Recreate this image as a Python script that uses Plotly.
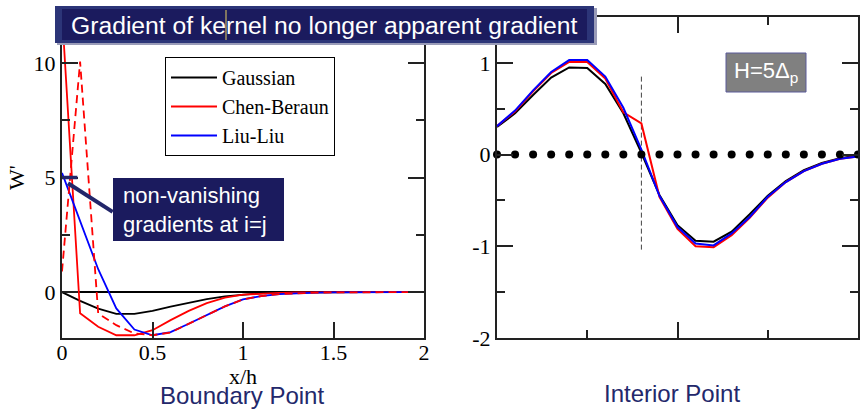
import plotly.graph_objects as go

W, H = 860, 409

# ---------------- data ----------------
# Boundary point (left panel), x/h grid
x_left = [0.0, 0.1, 0.2, 0.3, 0.4, 0.5, 0.6, 0.7, 0.8, 0.9, 1.0, 1.1, 1.2, 1.3, 1.4, 1.5, 1.6, 1.7, 1.8, 1.9, 2.0]
gauss_left = [0.0, -0.38, -0.72, -0.95, -0.95, -0.82, -0.63, -0.45, -0.30, -0.18, -0.10, -0.05, -0.02, -0.01, 0.0, 0.0, 0.0, 0.0, 0.0, 0.0, 0.0]
chen_left = [12.2, -0.92, -1.51, -1.88, -1.88, -1.66, -1.22, -0.82, -0.48, -0.24, -0.11, -0.06, -0.03, -0.01, 0.0, 0.0, 0.0, 0.0, 0.0, 0.0, 0.0]
chen_dash_left = [0.9, 10.06, -0.93, -1.44, -1.80, -1.88, -1.76, -1.38, -1.0, -0.62, -0.32, -0.17, -0.09, -0.05, -0.02, -0.01, 0.0, 0.0, 0.0, 0.0, 0.0]
liu_left = [5.2, 3.1, 1.0, -0.71, -1.63, -1.88, -1.74, -1.38, -1.0, -0.62, -0.32, -0.17, -0.09, -0.05, -0.02, -0.01, 0.0, 0.0, 0.0, 0.0, 0.0]

# Interior point (right panel), particle positions
x_right = [0.0, 0.1, 0.2, 0.3, 0.4, 0.5, 0.6, 0.7, 0.8, 0.9, 1.0, 1.1, 1.2, 1.3, 1.4, 1.5, 1.6, 1.7, 1.8, 1.9, 2.0]
gauss_right = [0.30, 0.45, 0.65, 0.84, 0.95, 0.945, 0.77, 0.45, 0.02, -0.44, -0.77, -0.94, -0.95, -0.84, -0.65, -0.45, -0.29, -0.17, -0.09, -0.04, -0.01]
liu_right = [0.31, 0.48, 0.70, 0.90, 1.03, 1.03, 0.85, 0.51, 0.055, -0.45, -0.79, -0.97, -0.99, -0.86, -0.68, -0.46, -0.30, -0.18, -0.10, -0.045, -0.02]
chen_right = [0.31, 0.47, 0.69, 0.89, 1.01, 1.01, 0.83, 0.46, 0.34, -0.46, -0.81, -1.00, -1.01, -0.88, -0.69, -0.47, -0.30, -0.18, -0.10, -0.045, -0.02]
particles_y = [0.0] * len(x_right)
interior_x = 0.8
interior_span = [0.85, -1.06]

right_ytickvals = [-2, -1, 0, 1]
right_yticktext = ['-2', '-1', '0', '1']

legend_names = ['Gaussian', 'Chen-Beraun', 'Liu-Liu']

# ---------------- helpers ----------------
def px(x):
    return x / W

def py(y):
    return 1 - y / H

NAVY = '#1b1b5e'
SERIF = 'Liberation Serif, Times New Roman, serif'
SANS = 'Liberation Sans, Arial, sans-serif'

fig = go.Figure()

# left panel
fig.add_trace(go.Scatter(x=x_left, y=gauss_left, mode='lines', name=legend_names[0],
                         line=dict(color='black', width=1.8), xaxis='x', yaxis='y'))
fig.add_trace(go.Scatter(x=x_left, y=chen_left, mode='lines', name=legend_names[1],
                         line=dict(color='#ff0000', width=1.8), xaxis='x', yaxis='y'))
fig.add_trace(go.Scatter(x=x_left, y=liu_left, mode='lines', name=legend_names[2],
                         line=dict(color='#0000ff', width=1.8), xaxis='x', yaxis='y'))
fig.add_trace(go.Scatter(x=x_left, y=chen_dash_left, mode='lines', showlegend=False,
                         line=dict(color='#ff0000', width=1.8, dash='8px,5px'), xaxis='x', yaxis='y'))

# right panel
fig.add_trace(go.Scatter(x=[interior_x, interior_x], y=interior_span, mode='lines', showlegend=False,
                         line=dict(color='#444444', width=1, dash='5px,3px'), xaxis='x2', yaxis='y2'))
fig.add_trace(go.Scatter(x=x_right, y=gauss_right, mode='lines', showlegend=False,
                         line=dict(color='black', width=2), xaxis='x2', yaxis='y2'))
fig.add_trace(go.Scatter(x=x_right, y=chen_right, mode='lines', showlegend=False,
                         line=dict(color='#ff0000', width=2), xaxis='x2', yaxis='y2'))
fig.add_trace(go.Scatter(x=x_right, y=liu_right, mode='lines', showlegend=False,
                         line=dict(color='#0000ff', width=2), xaxis='x2', yaxis='y2'))
fig.add_trace(go.Scatter(x=x_right, y=particles_y, mode='markers', showlegend=False, cliponaxis=False,
                         marker=dict(color='black', size=8), xaxis='x2', yaxis='y2'))

axis_common = dict(showline=True, linecolor='#222222', linewidth=2, mirror='allticks',
                   ticks='inside', ticklen=16, tickwidth=1.5, tickcolor='#222222', automargin=False,
                   showgrid=False, tickfont=dict(family=SERIF, size=22, color='black'))

fig.update_layout(
    width=W, height=H,
    margin=dict(l=0, r=0, t=0, b=0, autoexpand=False),
    paper_bgcolor='white', plot_bgcolor='white',
    xaxis=dict(domain=[px(62), px(424)], range=[0, 2], tick0=0, dtick=0.5, zeroline=False,
               anchor='y', ticklabelstandoff=-6, **axis_common),
    yaxis=dict(domain=[py(338), py(17)], range=[-2, 12], tick0=0, dtick=5, anchor='x',
               zeroline=True, zerolinecolor='black', zerolinewidth=1.5,
               minor=dict(tick0=0, dtick=2.5, ticklen=8, tickwidth=1.5, tickcolor='#222222', ticks='inside'),
               **axis_common),
    xaxis2=dict(domain=[px(497), px(858)], range=[0, 2], tick0=0, dtick=1, showticklabels=False,
                zeroline=False, anchor='y2',
                minor=dict(tick0=0, dtick=0.5, ticklen=8, tickwidth=1.5, tickcolor='#222222', ticks='inside'),
                **axis_common),
    yaxis2=dict(domain=[py(338), py(17)], range=[-2, 1.5], tickmode='array', tickvals=right_ytickvals,
                ticktext=right_yticktext, zeroline=False, anchor='x2',
                minor=dict(tickmode='linear', tick0=0, dtick=0.5, ticklen=8, tickwidth=1.5,
                           tickcolor='#222222', ticks='inside'),
                **axis_common),
    legend=dict(x=px(165), y=py(57), xanchor='left', yanchor='top', bgcolor='white',
                bordercolor='black', borderwidth=1, font=dict(family=SERIF, size=20, color='black'),
                itemwidth=46, tracegroupgap=0),
)

shapes = [
    # title box
    dict(type='rect', xref='paper', yref='paper', x0=px(57), x1=px(597), y0=py(45), y1=py(8),
         fillcolor='#9a9cb8', line=dict(width=0), layer='above'),
    dict(type='rect', xref='paper', yref='paper', x0=px(55), x1=px(594), y0=py(43), y1=py(6),
         fillcolor='#2c3578', line=dict(width=0), layer='above'),
    dict(type='rect', xref='paper', yref='paper', x0=px(62), x1=px(587), y0=py(40), y1=py(9),
         fillcolor=NAVY, line=dict(width=0), layer='above'),
    dict(type='line', xref='paper', yref='paper', x0=px(226), x1=px(226), y0=py(40), y1=py(10),
         line=dict(color='#e8d060', width=1), layer='above'),
    # annotation box
    dict(type='rect', xref='paper', yref='paper', x0=px(113), x1=px(284), y0=py(241), y1=py(178),
         fillcolor=NAVY, line=dict(width=0), layer='above'),
    dict(type='line', xref='x', yref='y', x0=0.033, x1=0.28, y0=4.75, y1=3.5,
         line=dict(color='#22266a', width=4), layer='above'),
    dict(type='line', xref='x', yref='y', x0=0.0, x1=0.085, y0=5, y1=5,
         line=dict(color='#22266a', width=3.5), layer='above'),
    # H box
    dict(type='rect', xref='paper', yref='paper', x0=px(726), x1=px(806), y0=py(92), y1=py(53),
         fillcolor='#808080', line=dict(color='#5b5b99', width=1), layer='above'),
]
fig.update_layout(shapes=shapes)

annotations = [
    dict(text='Gradient of kernel no longer apparent gradient', x=px(69), y=py(25), xref='paper', yref='paper',
         xanchor='left', yanchor='middle', showarrow=False, font=dict(family=SANS, size=24.7, color='white')),
    dict(text='non-vanishing<br>gradients at i=j', x=px(121), y=py(210), xref='paper', yref='paper',
         xanchor='left', yanchor='middle', align='left', showarrow=False,
         font=dict(family=SANS, size=22, color='white')),
    dict(text='H=5Δ<sub>p</sub>', x=px(766), y=py(72), xref='paper', yref='paper',
         xanchor='center', yanchor='middle', showarrow=False, font=dict(family=SANS, size=22, color='white')),
    dict(text='x/h', x=px(243), y=py(376), xref='paper', yref='paper', xanchor='center', yanchor='middle',
         showarrow=False, font=dict(family=SERIF, size=22, color='black')),
    dict(text="W'", x=px(16), y=py(178), xref='paper', yref='paper', xanchor='center', yanchor='middle',
         textangle=-90, showarrow=False, font=dict(family=SERIF, size=22, color='black')),
    dict(text='Boundary Point', x=px(242), y=py(395), xref='paper', yref='paper', xanchor='center',
         yanchor='middle', showarrow=False, font=dict(family=SANS, size=24, color='#23286b')),
    dict(text='Interior Point', x=px(672), y=py(393), xref='paper', yref='paper', xanchor='center',
         yanchor='middle', showarrow=False, font=dict(family=SANS, size=24, color='#23286b')),
]
fig.update_layout(annotations=annotations)

fig.write_html('out.html', config={'displayModeBar': False},
               post_script="document.body.style.margin='0px';document.body.style.overflow='hidden';")
